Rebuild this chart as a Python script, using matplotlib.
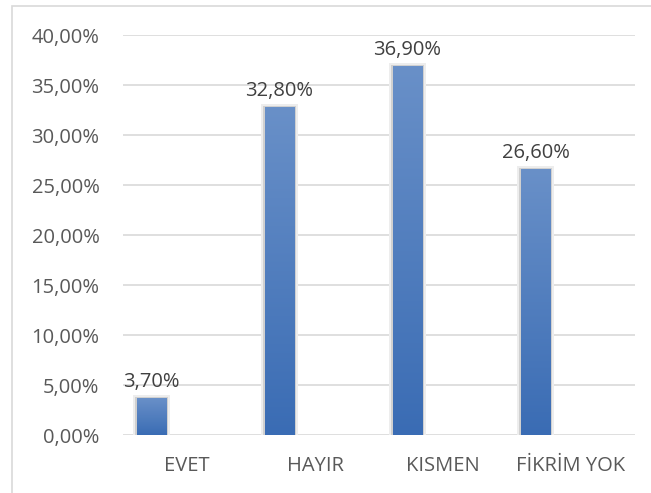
import numpy as np
import matplotlib.pyplot as plt
from matplotlib.colors import LinearSegmentedColormap
from matplotlib.patches import Rectangle

categories = ["EVET", "HAYIR", "KISMEN", "FİKRİM YOK"]
values = [3.70, 32.80, 36.90, 26.60]
yticks = [0, 5, 10, 15, 20, 25, 30, 35, 40]

plt.rcParams["font.family"] = ["Open Sans", "DejaVu Sans"]
TXT = "#595959"

fig = plt.figure(figsize=(6.51, 4.93), dpi=100)
fig.patches.append(Rectangle((12 / 651, -0.1), 1.2, 1 - 6 / 493 + 0.1,
                             transform=fig.transFigure, fill=False,
                             edgecolor="#d9d9d9", linewidth=1.2))
ax = fig.add_axes([123 / 651, 58 / 493, 512 / 651, 400 / 493])

x = np.arange(len(categories))
off = -0.277
w = 0.227
cmap = LinearSegmentedColormap.from_list("bar", ["#3a6cb4", "#6990c8"])
grad = np.linspace(0, 1, 256).reshape(-1, 1)

for xi, v in zip(x, values):
    # soft shadow around the bar
    ax.add_patch(Rectangle((xi + off - w / 2 - 0.03, 0), w + 0.06, v + 0.35,
                           facecolor="#ededed", edgecolor="none", zorder=2))
    ax.add_patch(Rectangle((xi + off - w / 2 - 0.012, 0), w + 0.024, v + 0.15,
                           facecolor="#d0d0d0", edgecolor="none", zorder=2))
    bar = ax.bar(xi + off, v, width=w, color="#4f7fc0", zorder=3)[0]
    im = ax.imshow(grad, extent=[xi + off - w / 2, xi + off + w / 2, 0, v],
                   origin="lower", cmap=cmap, aspect="auto", zorder=4)
    im.set_clip_path(bar)
    ax.text(xi + off, v + 1.1, f"{v:.2f}%".replace(".", ","), ha="center",
            va="baseline", fontsize=14.5, color="#404040")

ax.set_xlim(-0.5, len(categories) - 0.5)
ax.set_ylim(0, 40)
ax.set_yticks(yticks)
ax.set_yticklabels([f"{t:.2f}%".replace(".", ",") for t in yticks])
ax.set_xticks(x)
ax.set_xticklabels(categories)
ax.tick_params(axis="both", length=0, labelsize=14.5, colors=TXT)
ax.tick_params(axis="y", pad=17)
ax.tick_params(axis="x", pad=15)
ax.grid(axis="y", color="#d9d9d9", linewidth=1.2, zorder=0)
for s in ax.spines.values():
    s.set_visible(False)

fig.savefig("out.png", dpi=100)
